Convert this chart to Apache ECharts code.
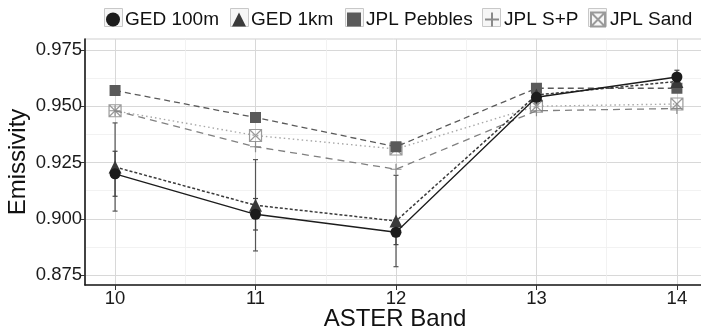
<!DOCTYPE html>
<html>
<head>
<meta charset="utf-8">
<script src="https://cdn.jsdelivr.net/npm/echarts@6/dist/echarts.min.js"></script>
<style>html,body{margin:0;padding:0;background:#fff;}#c{width:701px;height:333px;}</style>
</head>
<body>
<div id="c"></div>
<script>
// ---- data ----
const bands = [10, 11, 12, 13, 14];
const yTicks = [0.875, 0.900, 0.925, 0.950, 0.975];
const xMinorTicks = [10.5, 11.5, 12.5, 13.5];
const yMinorTicks = [0.8875, 0.9125, 0.9375, 0.9625];
const seriesNames = ['GED 100m', 'GED 1km', 'JPL Pebbles', 'JPL S+P', 'JPL Sand'];
const ged100 = [0.920, 0.902, 0.894, 0.954, 0.963];
const ged100Err = [0.010, 0.007, 0.0055, 0.003, 0.003];
const ged1km = [0.923, 0.906, 0.899, 0.955, 0.961];
const ged1kmErr = [0.0196, 0.0203, 0.0203, 0.003, 0.003];
const jplPebbles = [0.957, 0.945, 0.932, 0.958, 0.958];
const jplSP = [0.948, 0.932, 0.922, 0.948, 0.949];
const jplSand = [0.948, 0.937, 0.931, 0.950, 0.951];

const FONT = 'Liberation Sans, Arial, Helvetica, sans-serif';
const plusPath = 'path://M5,0L5,10M0,5L10,5';
const boxXPath = 'path://M0,0L10,0L10,10L0,10ZM0,0L10,10M10,0L0,10';

function pairs(vals) { return bands.map((b, i) => [b, vals[i]]); }
function errData(vals, errs) { return bands.map((b, i) => [b, vals[i] - errs[i], vals[i] + errs[i]]); }

function errorSeries(vals, errs, color) {
  return {
    type: 'custom',
    data: errData(vals, errs),
    encode: { x: 0, y: [1, 2] },
    z: 1,
    silent: true,
    renderItem: function (params, api) {
      const x = api.value(0), lo = api.value(1), hi = api.value(2);
      const pHi = api.coord([x, hi]), pLo = api.coord([x, lo]);
      const w = 2.5;
      const st = { stroke: color, lineWidth: 1.2 };
      return {
        type: 'group',
        children: [
          { type: 'line', shape: { x1: pHi[0], y1: pHi[1], x2: pLo[0], y2: pLo[1] }, style: st },
          { type: 'line', shape: { x1: pHi[0] - w, y1: pHi[1], x2: pHi[0] + w, y2: pHi[1] }, style: st },
          { type: 'line', shape: { x1: pLo[0] - w, y1: pLo[1], x2: pLo[0] + w, y2: pLo[1] }, style: st }
        ]
      };
    }
  };
}

const styles = [
  { color: '#1c1c1c', symbol: 'circle', size: 11, line: 'solid', lw: 1.3, fill: '#1c1c1c', border: '#1c1c1c' },
  { color: '#3a3a3a', symbol: 'triangle', size: 13, line: [3, 2], lw: 1.5, fill: '#3a3a3a', border: '#3a3a3a' },
  { color: '#5a5a5a', symbol: 'rect', size: 11, line: [6, 4], lw: 1.3, fill: '#5a5a5a', border: '#5a5a5a' },
  { color: '#808080', symbol: plusPath, size: 11, line: [7, 5], lw: 1.3, fill: 'rgba(0,0,0,0)', border: '#8a8a8a' },
  { color: '#a8a8a8', symbol: boxXPath, size: 12, line: [1.5, 3], lw: 1.4, fill: 'rgba(255,255,255,0)', border: '#9a9a9a' }
];
const valueSets = [ged100, ged1km, jplPebbles, jplSP, jplSand];

const lineSeries = valueSets.map((vals, i) => {
  const s = styles[i];
  return {
    name: seriesNames[i],
    type: 'line',
    data: pairs(vals),
    symbol: s.symbol,
    symbolSize: s.size,
    z: 10 - i,
    lineStyle: { color: s.color, width: s.lw, type: s.line },
    itemStyle: { color: s.fill, borderColor: s.border, borderWidth: (i >= 3 ? 1.2 : 0) },
    emphasis: { disabled: true }
  };
});

const legendBoxX = [104, 230, 345, 482, 588];
const legends = seriesNames.map((n, i) => ({
  data: [n],
  left: legendBoxX[i] + 2,
  top: 10,
  padding: 0,
  itemWidth: 14,
  itemHeight: 14,
  icon: styles[i].symbol,
  selectedMode: false,
  textStyle: { fontSize: 19, fontFamily: FONT, color: '#111', padding: [0, 0, 0, 0] }
}));

const chart = echarts.init(document.getElementById('c'), null, { renderer: 'canvas' });
chart.setOption({
  animation: false,
  backgroundColor: '#fff',
  graphic: legendBoxX.map(x => ({
    type: 'rect', left: x, top: 8, z: -1,
    shape: { width: 18, height: 18 },
    style: { fill: '#f6f6f6', stroke: '#c8c8c8', lineWidth: 1 }
  })),
  legend: legends,
  grid: { left: 85, right: -4, top: 39, bottom: 48, outerBoundsMode: 'none', containLabel: false, show: true, borderColor: '#cfcfcf', borderWidth: 1, backgroundColor: '#fff' },
  xAxis: [
    {
      type: 'value', min: 9.786, max: 14.2,
      name: 'ASTER Band', nameLocation: 'middle', nameGap: 22, nameMoveOverlap: false,
      nameTextStyle: { fontSize: 24, fontFamily: FONT, color: '#111' },
      axisLine: { show: true, onZero: false, lineStyle: { color: '#1a1a1a', width: 1.6 } },
      axisTick: { show: true, length: 5, customValues: bands, lineStyle: { color: '#333', width: 1 } },
      axisLabel: { customValues: bands, fontSize: 18.5, fontFamily: FONT, color: '#1a1a1a', margin: 4 },
      splitLine: { show: true, lineStyle: { color: '#d8d8d8', width: 1 } }
    },
    {
      type: 'value', min: 9.786, max: 14.2, position: 'bottom',
      axisLine: { show: false }, axisTick: { show: false, customValues: xMinorTicks },
      axisLabel: { show: false, customValues: xMinorTicks },
      splitLine: { show: true, lineStyle: { color: '#efefef', width: 0.8 } }
    }
  ],
  yAxis: [
    {
      type: 'value', min: 0.87056, max: 0.97989,
      name: 'Emissivity', nameLocation: 'middle', nameGap: 55, nameMoveOverlap: false,
      nameTextStyle: { fontSize: 24, fontFamily: FONT, color: '#111' },
      axisLine: { show: true, onZero: false, lineStyle: { color: '#1a1a1a', width: 1.6 } },
      axisTick: { show: true, length: 5, customValues: yTicks, lineStyle: { color: '#333', width: 1 } },
      axisLabel: { customValues: yTicks, fontSize: 18.5, fontFamily: FONT, color: '#1a1a1a', margin: 3, formatter: v => v.toFixed(3) },
      splitLine: { show: true, lineStyle: { color: '#d8d8d8', width: 1 } }
    },
    {
      type: 'value', min: 0.87056, max: 0.97989, position: 'left',
      axisLine: { show: false }, axisTick: { show: false, customValues: yMinorTicks },
      axisLabel: { show: false, customValues: yMinorTicks },
      splitLine: { show: true, lineStyle: { color: '#efefef', width: 0.8 } }
    }
  ],
  series: [
    errorSeries(ged1km, ged1kmErr, '#555'),
    errorSeries(ged100, ged100Err, '#444')
  ].concat(lineSeries)
});
</script>
</body>
</html>
